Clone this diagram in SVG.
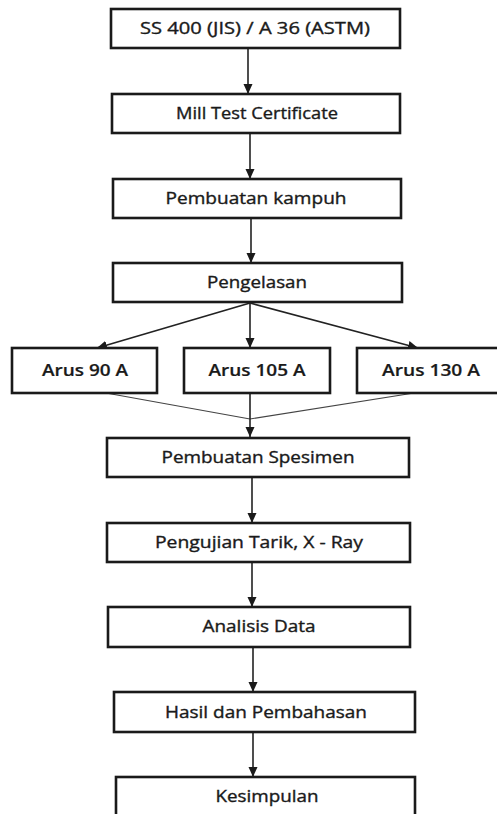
<svg xmlns="http://www.w3.org/2000/svg" width="497" height="814" viewBox="0 0 497 814">
<defs>
<style>
.box{fill:#fff;stroke:#1a1a1a;stroke-width:2.6}
.t{font-family:"Open Sans","Liberation Sans",sans-serif;font-size:15.5px;fill:#1a1a1a;stroke:#1a1a1a;stroke-width:0.35;text-anchor:middle}
.b{font-weight:600;font-size:16px;stroke-width:0.2}
.ln{stroke:#222;stroke-width:1.6;fill:none}
.thin{stroke:#444;stroke-width:1.1;fill:none}
</style>
<marker id="ah" markerWidth="10" markerHeight="10" viewBox="0 0 10 10" refX="10" refY="5" orient="auto" markerUnits="userSpaceOnUse">
<path d="M0,0.5 L10,5 L0,9.5 Z" fill="#1a1a1a"/>
</marker>
</defs>
<rect width="497" height="814" fill="#fff"/>
<g id="connectors">
<line class="ln" x1="248" y1="48" x2="248" y2="94" marker-end="url(#ah)"/>
<line class="ln" x1="250" y1="133" x2="250" y2="179" marker-end="url(#ah)"/>
<line class="ln" x1="251" y1="218" x2="251" y2="263" marker-end="url(#ah)"/>
<line class="ln" x1="250" y1="303" x2="97" y2="348" marker-end="url(#ah)"/>
<line class="ln" x1="250" y1="303" x2="250" y2="348" marker-end="url(#ah)"/>
<line class="ln" x1="250" y1="303" x2="418" y2="348" marker-end="url(#ah)"/>
<line class="thin" x1="106" y1="393" x2="250" y2="419"/>
<line class="thin" x1="414" y1="393" x2="250" y2="419"/>
<line class="ln" x1="250" y1="393" x2="250" y2="437" marker-end="url(#ah)"/>
<line class="ln" x1="252" y1="477" x2="252" y2="523" marker-end="url(#ah)"/>
<line class="ln" x1="252" y1="562" x2="252" y2="607" marker-end="url(#ah)"/>
<line class="ln" x1="253" y1="647" x2="253" y2="692" marker-end="url(#ah)"/>
<line class="ln" x1="253" y1="732" x2="253" y2="777" marker-end="url(#ah)"/>
</g>
<g id="n1"><rect class="box" x="111" y="9" width="289" height="39"/><text class="t" x="255" y="34" textLength="230" lengthAdjust="spacingAndGlyphs">SS 400 (JIS) / A 36 (ASTM)</text></g>
<g id="n2"><rect class="box" x="112" y="94" width="288" height="39"/><text class="t" x="257" y="119" textLength="162" lengthAdjust="spacingAndGlyphs">Mill Test Certificate</text></g>
<g id="n3"><rect class="box" x="113" y="179" width="288" height="39"/><text class="t" x="256" y="204" textLength="181" lengthAdjust="spacingAndGlyphs">Pembuatan kampuh</text></g>
<g id="n4"><rect class="box" x="113" y="263" width="289" height="39"/><text class="t" x="257" y="288" textLength="100" lengthAdjust="spacingAndGlyphs">Pengelasan</text></g>
<g id="n5"><rect class="box" x="12" y="348" width="145" height="45"/><text class="t b" x="85" y="376" textLength="86" lengthAdjust="spacingAndGlyphs">Arus 90 A</text></g>
<g id="n6"><rect class="box" x="184" y="348" width="146" height="45"/><text class="t b" x="257" y="376" textLength="97" lengthAdjust="spacingAndGlyphs">Arus 105 A</text></g>
<g id="n7"><rect class="box" x="357" y="348" width="145" height="45"/><text class="t b" x="431" y="376" textLength="98" lengthAdjust="spacingAndGlyphs">Arus 130 A</text></g>
<g id="n8"><rect class="box" x="107" y="438" width="302" height="39"/><text class="t" x="258" y="463" textLength="193" lengthAdjust="spacingAndGlyphs">Pembuatan Spesimen</text></g>
<g id="n9"><rect class="box" x="107" y="523" width="303" height="39"/><text class="t" x="259" y="548" textLength="208" lengthAdjust="spacingAndGlyphs">Pengujian Tarik, X - Ray</text></g>
<g id="n10"><rect class="box" x="108" y="607" width="302" height="40"/><text class="t" x="259" y="632" textLength="113" lengthAdjust="spacingAndGlyphs">Analisis Data</text></g>
<g id="n11"><rect class="box" x="114" y="692" width="301" height="40"/><text class="t" x="266" y="718" textLength="202" lengthAdjust="spacingAndGlyphs">Hasil dan Pembahasan</text></g>
<g id="n12"><rect class="box" x="116" y="777" width="299" height="42"/><text class="t" x="267" y="802" textLength="103" lengthAdjust="spacingAndGlyphs">Kesimpulan</text></g>
</svg>
